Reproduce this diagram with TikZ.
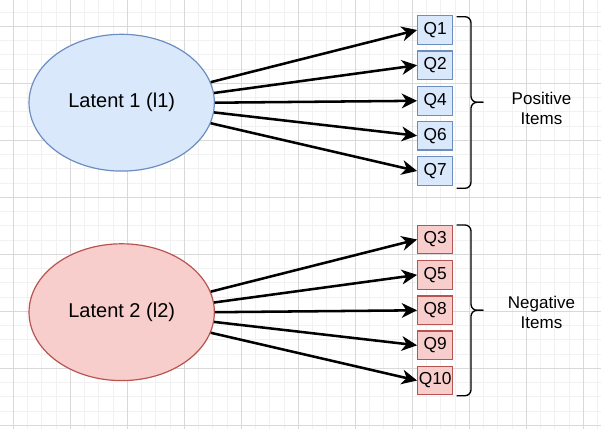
\documentclass[tikz,border=0pt]{standalone}
\usepackage{fontspec}
\setmainfont{Liberation Sans}
\usetikzlibrary{arrows.meta,shapes.geometric}
\definecolor{bluefill}{HTML}{DAE8FC}
\definecolor{bluedraw}{HTML}{6C8EBF}
\definecolor{redfill}{HTML}{F8CECC}
\definecolor{reddraw}{HTML}{B85450}
\definecolor{gridminor}{HTML}{F1F1F1}
\definecolor{gridmajor}{HTML}{D9D9D9}
\begin{document}
\begin{tikzpicture}[x=0.75pt,y=-0.75pt,
  latent/.style={ellipse, draw, line width=0.9pt, minimum width=139pt, minimum height=102.6pt, inner sep=0pt, font=\fontsize{15}{18}\selectfont},
  item/.style={rectangle, draw, line width=0.9pt, minimum width=26.25pt, minimum height=21.5pt, inner sep=0pt, font=\fontsize{13}{15}\selectfont},
  posfill/.style={fill=bluefill, draw=bluedraw},
  negfill/.style={fill=redfill, draw=reddraw},
  load/.style={line width=1.9pt, -{Stealth[length=11.5pt,width=11pt,inset=3.5pt]}},
  bracepath/.style={line width=1pt, rounded corners=4.5pt},
  lbl/.style={align=center, font=\fontsize{12.75}{15.5}\selectfont}]
\useasboundingbox (0,0) rectangle (601,429);
\fill[white] (0,0) rectangle (601,429);
\begin{scope}
  \clip (0,0) rectangle (601,429);
  \foreach \j in {-1,...,41} {
    \pgfmathsetmacro\xx{13.3+14.25*\j}
    \draw[gridminor, line width=0.75pt] (\xx,0) -- (\xx,429);
  }
  \foreach \j in {-2,...,28} {
    \pgfmathsetmacro\yy{26.3+14.25*\j}
    \draw[gridminor, line width=0.75pt] (0,\yy) -- (601,\yy);
  }
  \foreach \k in {0,...,10} {
    \pgfmathsetmacro\xx{13.3+57*\k}
    \draw[gridmajor, line width=0.75pt] (\xx,0) -- (\xx,429);
  }
  \foreach \k in {0,...,7} {
    \pgfmathsetmacro\yy{26.3+57*\k}
    \draw[gridmajor, line width=0.75pt] (0,\yy) -- (601,\yy);
  }
\end{scope}

\node[latent,posfill] (l1) at (121.7,102.7) {Latent 1 (l1)};
\node[latent,negfill] (l2) at (121.7,312.2) {Latent 2 (l2)};

\node[item,posfill] (q1) at (435.2,30) {Q1};
\node[item,posfill] (q2) at (435.2,65.25) {Q2};
\node[item,posfill] (q4) at (435.2,100.8) {Q4};
\node[item,posfill] (q6) at (435.2,135.75) {Q6};
\node[item,posfill] (q7) at (435.2,171) {Q7};

\node[item,negfill] (q3) at (435.2,239.5) {Q3};
\node[item,negfill] (q5) at (435.2,274.9) {Q5};
\node[item,negfill] (q8) at (435.2,310.3) {Q8};
\node[item,negfill] (q9) at (435.2,345.3) {Q9};
\node[item,negfill] (q10) at (435.2,380.5) {Q10};

\draw[load] (l1.13) -- (q1.west);
\draw[load] (l1.6) -- (q2.west);
\draw[load] (l1.0) -- (q4.west);
\draw[load] (l1.-6) -- (q6.west);
\draw[load] (l1.-13) -- (q7.west);

\draw[load] (l2.13) -- (q3.west);
\draw[load] (l2.6) -- (q5.west);
\draw[load] (l2.0) -- (q8.west);
\draw[load] (l2.-6) -- (q9.west);
\draw[load] (l2.-13) -- (q10.west);

\draw[bracepath] (456.7,16.7) -- (471,16.7) -- (471,102.3) -- (483.3,102.3);
\draw[bracepath] (456.7,188.3) -- (471,188.3) -- (471,102.3) -- (483.3,102.3);
\draw[bracepath] (456.7,225) -- (471,225) -- (471,310.3) -- (483.3,310.3);
\draw[bracepath] (456.7,395.7) -- (471,395.7) -- (471,310.3) -- (483.3,310.3);

\node[lbl] (posl) at (541.5,108.5) {Positive\\Items};
\node[lbl] (negl) at (541.5,312.3) {Negative\\Items};
\end{tikzpicture}
\end{document}
